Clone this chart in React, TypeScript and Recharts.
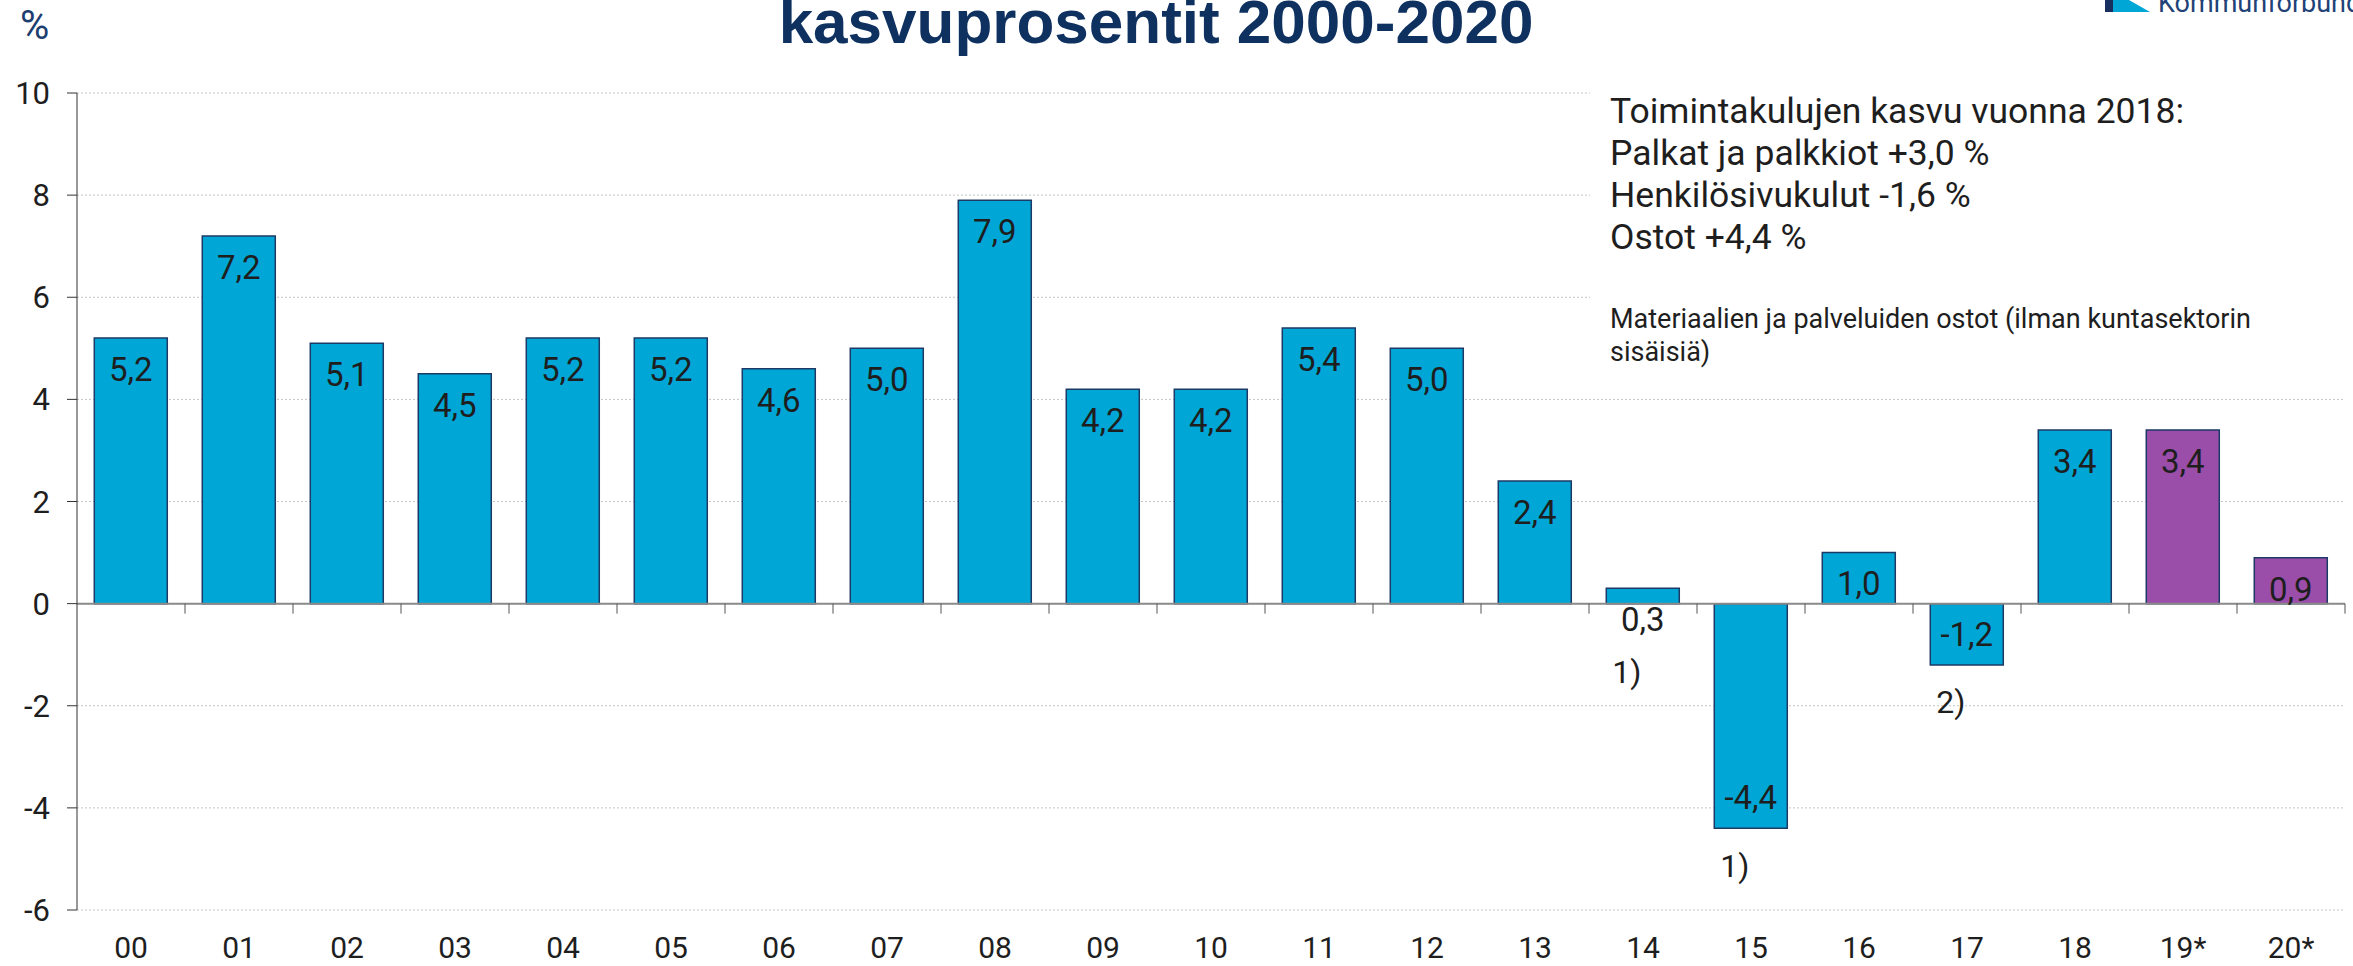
import React from "react";
import {
  BarChart,
  Bar,
  XAxis,
  YAxis,
  CartesianGrid,
  ReferenceLine,
  LabelList,
  Cell,
} from "recharts";

const years = [
  "00", "01", "02", "03", "04", "05", "06", "07", "08", "09", "10",
  "11", "12", "13", "14", "15", "16", "17", "18", "19*", "20*",
];
const growth = [
  5.2, 7.2, 5.1, 4.5, 5.2, 5.2, 4.6, 5.0, 7.9, 4.2, 4.2,
  5.4, 5.0, 2.4, 0.3, -4.4, 1.0, -1.2, 3.4, 3.4, 0.9,
];
const estimate = [
  false, false, false, false, false, false, false, false, false, false, false,
  false, false, false, false, false, false, false, false, true, true,
];
const notes = [
  "", "", "", "", "", "", "", "", "", "", "",
  "", "", "", "1)", "1)", "", "2)", "", "", "",
];
const yTicks = [-6, -4, -2, 0, 2, 4, 6, 8, 10];

const title = "kasvuprosentit 2000-2020";
const infoLines = [
  "Toimintakulujen kasvu vuonna 2018:",
  "Palkat ja palkkiot +3,0 %",
  "Henkilösivukulut -1,6 %",
  "Ostot +4,4 %",
];
const infoNote = [
  "Materiaalien ja palveluiden ostot (ilman kuntasektorin",
  "sisäisiä)",
];

const data = years.map((year, i) => ({
  year,
  growth: growth[i],
  note: notes[i],
  estimate: estimate[i],
}));

const BLUE = "#00a6d6";
const PURPLE = "#9b4ea9";
const FONT = "Roboto, 'Noto Sans', sans-serif";

// bar box from label props (viewBox in v3, flat props otherwise)
const barBox = (p: any) => {
  const vb = p.viewBox && p.viewBox.width != null ? p.viewBox : p;
  const x = Number(vb.x);
  const y = Number(vb.y);
  const w = Number(vb.width);
  const h = Number(vb.height);
  return { x, w, top: Math.min(y, y + h), bottom: Math.max(y, y + h) };
};

const ValueLabel = (p: any) => {
  const v = Number(p.value);
  if (Number.isNaN(v)) return null;
  const b = barBox(p);
  const cy = v >= 0 ? b.top + 31 : b.bottom - 31;
  return (
    <text
      x={b.x + b.w / 2}
      y={cy}
      dy="0.36em"
      textAnchor="middle"
      fontSize={33}
      fontFamily={FONT}
      fill="#1e1e1e"
    >
      {v.toFixed(1).replace(".", ",")}
    </text>
  );
};

const NoteLabel = (p: any) => {
  if (!p.value) return null;
  const b = barBox(p);
  const cy = Math.max(b.bottom, b.top + 46) + 37;
  return (
    <text
      x={b.x + 6}
      y={cy}
      dy="0.36em"
      textAnchor="start"
      fontSize={32}
      fontFamily={FONT}
      fill="#1e1e1e"
    >
      {p.value}
    </text>
  );
};

// zero line with category tick marks hanging below it
const ZeroAxis = (p: any) => {
  const x1 = Number(p.x1);
  const x2 = Number(p.x2);
  const y = Number(p.y1);
  const step = (x2 - x1) / years.length;
  return (
    <g>
      <line x1={x1} x2={x2} y1={y} y2={y} stroke="#8a8a8a" strokeWidth={2} />
      {years.map((_, i) => (
        <line
          key={i}
          x1={x1 + (i + 1) * step}
          x2={x1 + (i + 1) * step}
          y1={y}
          y2={y + 10}
          stroke="#555"
          strokeWidth={1}
        />
      ))}
    </g>
  );
};

export default function App() {
  return (
    <div
      style={{
        position: "absolute",
        left: 0,
        top: 0,
        width: 2353,
        height: 966,
        background: "#fff",
        overflow: "hidden",
      }}
    >
      <BarChart
        width={2353}
        height={966}
        data={data}
        margin={{ top: 93, right: 8, bottom: 0, left: 0 }}
        barCategoryGap="16%"
      >
        <CartesianGrid vertical={false} stroke="#c4c4c4" strokeDasharray="2 2" />
        <XAxis
          dataKey="year"
          interval={0}
          axisLine={false}
          tickLine={false}
          tickSize={0}
          tickMargin={27}
          height={56}
          tick={{ fontSize: 30, fill: "#1e1e1e", fontFamily: FONT }}
        />
        <YAxis
          domain={[-6, 10]}
          ticks={yTicks}
          interval={0}
          width={77}
          tickSize={10}
          tickMargin={17}
          axisLine={{ stroke: "#333" }}
          tickLine={{ stroke: "#333" }}
          tick={{ fontSize: 31, fill: "#1e1e1e", fontFamily: FONT }}
        />
        <Bar
          dataKey="growth"
          isAnimationActive={false}
          stroke="#1d3a66"
          strokeWidth={1.5}
        >
          {data.map((d) => (
            <Cell key={d.year} fill={d.estimate ? PURPLE : BLUE} />
          ))}
          <LabelList dataKey="growth" content={ValueLabel} />
          <LabelList dataKey="note" content={NoteLabel} />
        </Bar>
        <ReferenceLine y={0} shape={ZeroAxis} />
      </BarChart>

      <svg
        width={2353}
        height={966}
        style={{ position: "absolute", left: 0, top: 0, pointerEvents: "none" }}
      >
        <text
          x={1156}
          y={43}
          textAnchor="middle"
          fontSize={62}
          fontWeight="bold"
          fontFamily="'Liberation Sans', Arial, sans-serif"
          fill="#0e3160"
        >
          {title}
        </text>
        <text x={20} y={39} fontSize={40} fontFamily={FONT} fill="#1c3d6e">
          %
        </text>
        <rect x={2105} y={-4} width={8} height={16} fill="#17305f" />
        <polygon points="2113,-4 2122,-4 2150,12 2113,12" fill="#00a6d6" />
        <text x={2158} y={12} fontSize={27} fontFamily={FONT} fill="#1f4277">
          Kommunförbund
        </text>
      </svg>

      <div
        style={{
          position: "absolute",
          left: 1590,
          top: 82,
          width: 763,
          height: 296,
          background: "#fff",
          fontFamily: FONT,
          color: "#1e1e1e",
        }}
      >
        <div style={{ position: "absolute", left: 20, top: 8, fontSize: 35.5, lineHeight: "42px", whiteSpace: "nowrap" }}>
          {infoLines.map((t) => (
            <div key={t}>{t}</div>
          ))}
        </div>
        <div style={{ position: "absolute", left: 20, top: 221, fontSize: 27, lineHeight: "33px", whiteSpace: "nowrap" }}>
          {infoNote.map((t) => (
            <div key={t}>{t}</div>
          ))}
        </div>
      </div>
    </div>
  );
}
